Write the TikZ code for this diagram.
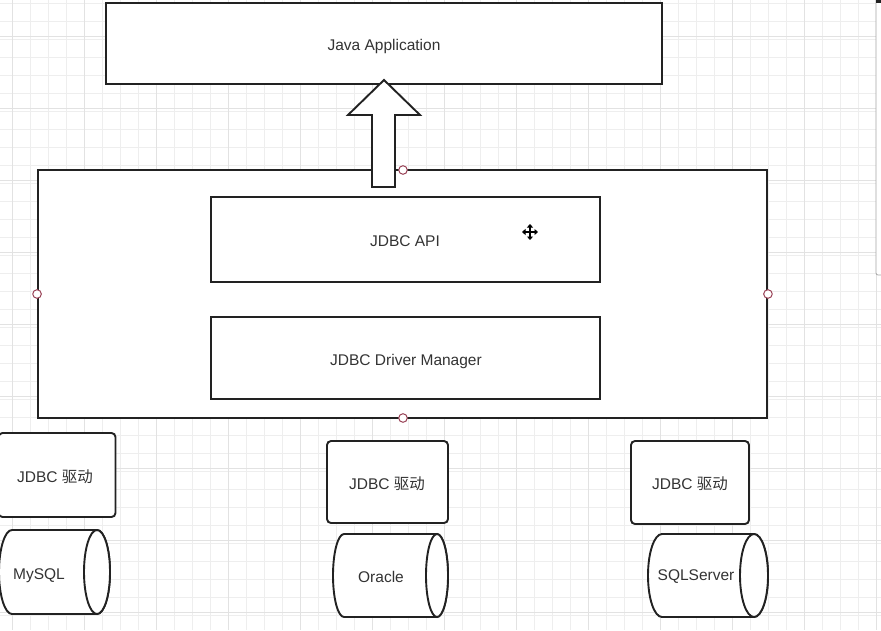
\documentclass[tikz,border=0pt]{standalone}
\usepackage{fontspec}
\setmainfont{Liberation Sans}
\newfontfamily\cjk{Noto Sans CJK SC}
\usetikzlibrary{arrows.meta}
\definecolor{gridminor}{HTML}{EEEEEE}
\definecolor{gridmajor}{HTML}{E2E2E2}
\definecolor{ink}{HTML}{222222}
\definecolor{txt}{HTML}{333333}
\definecolor{port}{HTML}{9A4458}
\tikzset{
  box/.style={draw=ink, line width=1.9pt, fill=white, inner sep=0pt},
  rbox/.style={box, rounded corners=4pt},
  lbl/.style={text=txt, font=\fontsize{15.5}{18}\selectfont, inner sep=0pt},
  dbshape/.style={draw=ink, line width=1.9pt, fill=white},
  portdot/.style={draw=port, line width=1pt, fill=white},
}
\newcommand{\dbcyl}[5]{%
  \draw[dbshape] ({#1+#3},#4) arc[start angle=270, end angle=90, x radius=#3, y radius={(#5-#4)/2}]
     -- (#2,#5) arc[start angle=90, end angle=-90, x radius=#3, y radius={(#5-#4)/2}] -- cycle;
  \draw[dbshape] (#2,{(#4+#5)/2}) ellipse[x radius=#3, y radius={(#5-#4)/2}];
}
\begin{document}
\begin{tikzpicture}[x=1pt,y=-1pt]
\useasboundingbox (0,0) rectangle (881,630);
\fill[white] (0,0) rectangle (881,630);
% grid
\foreach \i in {0,...,48} {
  \draw[gridminor, line width=0.8pt] ({12+18*\i},0) -- ({12+18*\i},630);
}
\foreach \j in {0,...,35} {
  \draw[gridminor, line width=0.8pt] (0,{3+18*\j}) -- (881,{3+18*\j});
}
\foreach \i in {0,...,12} {
  \draw[gridmajor, line width=0.9pt] ({12+72*\i},0) -- ({12+72*\i},630);
}
\foreach \j in {0,...,9} {
  \draw[gridmajor, line width=0.9pt] (0,{36+72*\j}) -- (881,{36+72*\j});
}
% right side panel edge
\fill[white] (876,0) rectangle (881,275);
\draw[gray!70, line width=0.8pt, rounded corners=2pt] (876,0) -- (876,275) -- (881,275);
\fill[ink] (876,0) rectangle (881,3);

% Java Application
\node[box, minimum width=556pt, minimum height=81pt] (java) at (384,43.5) {};
\node[lbl] (javat) at (384,46.5) {Java Application};

% outer JDBC container
\node[box, minimum width=729pt, minimum height=248pt] (outer) at (402.5,294) {};

% block arrow from container up to Java Application
\coordinate (arrtip) at (384,80);
\coordinate (arrbase) at (383.5,187);
\draw[ink, line width=1.9pt, fill=white, line join=miter]
  (arrbase -| 372,0) -- (372,115) -- (348,115) -- (arrtip) -- (420,115) -- (395,115) -- (arrbase -| 395,0) -- cycle;

% inner boxes
\node[box, minimum width=389pt, minimum height=85pt] (api) at (405.5,239.5) {};
\node[lbl] at (405,241) {JDBC API};
\node[box, minimum width=389pt, minimum height=82pt] (dm) at (405.5,358) {};
\node[lbl] at (406,361) {JDBC Driver Manager};

% connection points
\foreach \p in {outer.west, outer.east}
  \draw[portdot] (\p) circle (4.3pt);
\draw[portdot] (403,170) circle (4.3pt);
\draw[portdot] (403,418) circle (4.3pt);

% move cursor
\coordinate (mv) at (530,232);
\draw[black, line width=1.6pt, {Triangle[length=3.5pt,width=6pt]}-{Triangle[length=3.5pt,width=6pt]}] ([xshift=-8pt]mv) -- ([xshift=8pt]mv);
\draw[black, line width=1.6pt, {Triangle[length=3.5pt,width=6pt]}-{Triangle[length=3.5pt,width=6pt]}] ([yshift=-8pt]mv) -- ([yshift=8pt]mv);

% driver boxes
\node[rbox, minimum width=117pt, minimum height=84pt] (d1) at (57,475) {};
\node[lbl] at (55,477) {JDBC {\cjk 驱动}};
\node[rbox, minimum width=121pt, minimum height=82pt] (d2) at (387.5,482) {};
\node[lbl] at (387,484) {JDBC {\cjk 驱动}};
\node[rbox, minimum width=118pt, minimum height=83pt] (d3) at (690,482.5) {};
\node[lbl] at (690,484) {JDBC {\cjk 驱动}};

% database cylinders
\dbcyl{-1}{97}{13}{530}{614}
\node[lbl] (mysql) at (39,576) {MySQL};
\dbcyl{333}{437}{11}{534}{617}
\node[lbl] (oracle) at (381,577) {Oracle};
\dbcyl{648}{754}{14}{534}{617}
\node[lbl] (sqls) at (696,577) {SQLServer};
\end{tikzpicture}
\end{document}
